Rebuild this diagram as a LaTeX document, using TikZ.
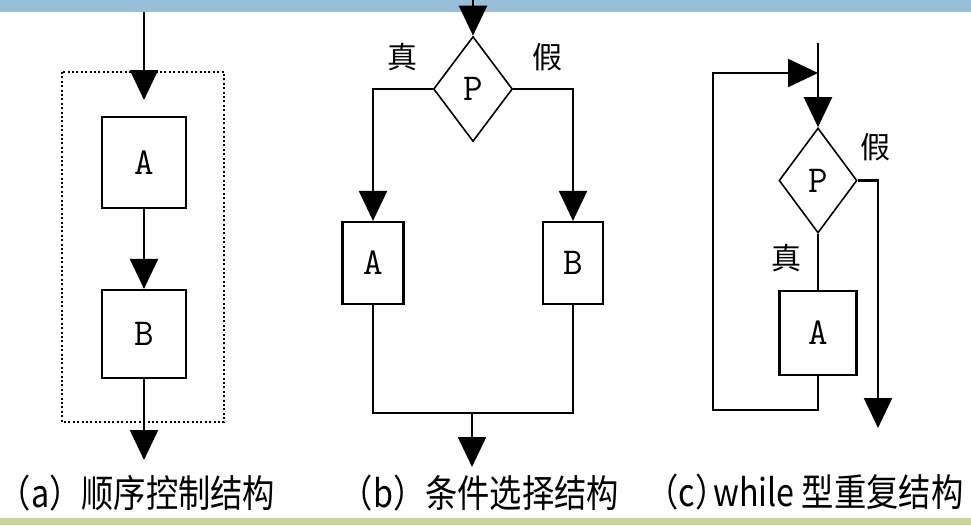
\documentclass[tikz,border=0pt]{standalone}
\usepackage{fontspec}
\newfontfamily\cjk{Noto Sans CJK SC}
\usetikzlibrary{arrows.meta,shapes.geometric}
\definecolor{topband}{HTML}{97BFD9}
\definecolor{botband}{HTML}{CDD49B}

\begin{document}
\begin{tikzpicture}[x=1pt,y=-1pt,>={Triangle[width=28pt,length=30pt]},line width=2.2pt,
    box/.style={draw,rectangle,inner sep=0pt,font=\ttfamily\fontsize{38}{38}\selectfont},
    cond/.style={draw,diamond,inner sep=0pt,minimum width=79pt,minimum height=105pt,line width=1.6pt,font=\ttfamily\fontsize{38}{38}\selectfont},
    tag/.style={font=\cjk\fontsize{30}{30}\selectfont},
    caption/.style={font=\cjk\fontsize{38}{38}\selectfont,xscale=0.85}]
        \useasboundingbox (0,0) rectangle (971,525);
        \fill[topband] (0,0) rectangle (971,12);
        \fill[botband] (0,518) rectangle (971,525);
        % (a) sequence
        \draw[line width=2pt,dash pattern=on 2pt off 2.4pt] (62,72) rectangle (224,422);
        \coordinate (ain) at (144,12);
        \coordinate (atip) at (144,100);
        \node[box,minimum width=84pt,minimum height=91pt] (aA) at (144,162.5) {A};
        \node[box,minimum width=84pt,minimum height=88pt] (aB) at (144,334) {B};
        \coordinate (aout) at (144,460);
        \draw[->] (ain) -- (atip);
        \draw[->] (aA) -- (aB);
        \draw[->] (aB) -- (aout);
        \node[caption] (capa) at (137,493) {（a）顺序控制结构};
        % (b) selection
        \coordinate (bin) at (473,0);
        \node[cond] (bP) at (473,89) {P};
        \node[box,minimum width=61pt,minimum height=82pt] (bA) at (373,263) {A};
        \node[box,minimum width=60pt,minimum height=82pt] (bB) at (573,263) {B};
        \coordinate (bjoin) at (472,413);
        \coordinate (bout) at (472,467);
        \draw[->] (bin) -- (bP.north);
        \draw[->] (bP.west) -| (bA.north);
        \draw[->] (bP.east) -| (bB.north);
        \draw (bA.south) |- (bjoin) -| (bB.south);
        \draw[->] (bjoin) -- (bout);
        \node[tag] (btrue) at (402,57) {真};
        \node[tag] (bfalse) at (547,57) {假};
        \node[caption] (capb) at (480,493) {（b）条件选择结构};
        % (c) while loop
        \coordinate (cin) at (818,43);
        \coordinate (cjoin) at (818,73);
        \node[cond,minimum width=78pt] (cP) at (818,180.5) {P};
        \node[box,minimum width=77pt,minimum height=84pt] (cA) at (818,333) {A};
        \coordinate (cloop) at (713,410);
        \coordinate (cout) at (878,428);
        \draw[->] (cin) -- (cP.north);
        \draw (cP.south) -- (cA.north);
        \draw[->] (cA.south) |- (cloop) |- (cjoin);
        \draw[->] (cP.east) -| (cout);
        \node[tag] (cfalse) at (875,147) {假};
        \node[tag] (ctrue) at (786,258) {真};
        \node[caption] (capc) at (805,492) {（c）\hspace{-0.45em}while 型重复结构};
\end{tikzpicture}
\end{document}
